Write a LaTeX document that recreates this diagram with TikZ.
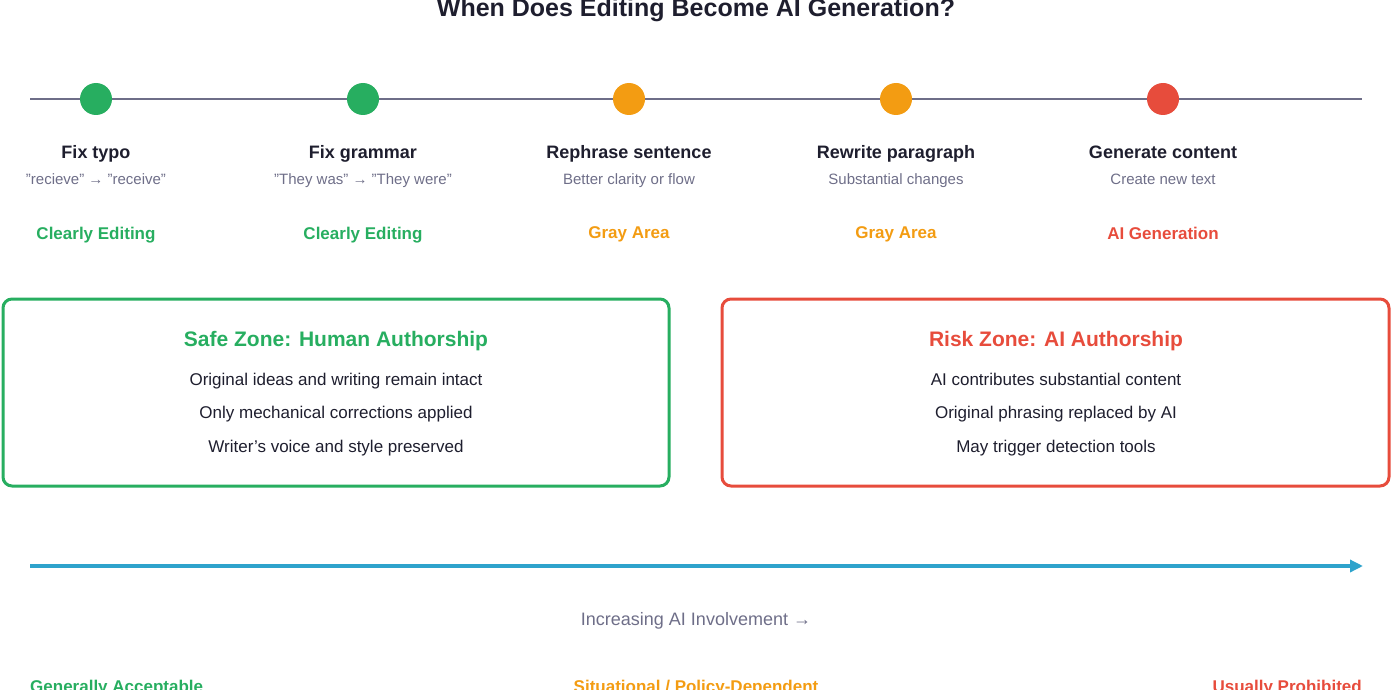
\documentclass[tikz,border=0pt]{standalone}
\usepackage{fontspec}
\setmainfont{Liberation Sans}
\usetikzlibrary{arrows.meta}
\definecolor{cgreen}{HTML}{27AE60}
\definecolor{corange}{HTML}{F39C12}
\definecolor{cred}{HTML}{E74C3C}
\definecolor{cline}{HTML}{6E6E88}
\definecolor{cdark}{HTML}{1E1E2E}
\definecolor{cgray}{HTML}{6E6E88}
\definecolor{cblue}{HTML}{2EA3CC}
\newcommand{\fsz}[1]{\fontsize{#1}{#1}\selectfont}
\newcommand{\q}{\char"22\relax}
\begin{document}
\begin{tikzpicture}[x=1pt,y=-1pt,
  dot/.style={circle,fill=#1,minimum size=32pt,inner sep=0pt},
  stage/.style={text=cdark,font=\fsz{18}\bfseries,text depth=0pt,yshift=-6pt},
  sub/.style={text=cgray,font=\fsz{15},text depth=0pt,yshift=-5pt},
  cat/.style={text=#1,font=\fsz{17}\bfseries,text depth=0pt,yshift=-6pt},
  zone/.style={draw=#1,line width=3pt,rounded corners=9pt},
  ztitle/.style={text=#1,font=\fsz{21}\bfseries,text depth=0pt,yshift=-7pt},
  zline/.style={text=cdark,font=\fsz{17},text depth=0pt,yshift=-6pt},
  foot/.style={text=#1,font=\fsz{17}\bfseries,text depth=0pt,yshift=-6pt}]
\useasboundingbox (0,0) rectangle (1392,690);
\node[text=cdark,font=\fsz{25}\bfseries] (title) at (696,10) {When Does Editing Become AI Generation?};
% timeline
\coordinate (tl) at (30,99);
\coordinate (tr) at (1362,99);
\draw[cline,line width=2.5pt] (tl) -- (tr);
\foreach \x/\c/\n/\s/\k/\t [count=\i] in {
  96/cgreen/Fix typo/{\q recieve\q{} → \q receive\q}/Clearly Editing/cgreen,
  363/cgreen/Fix grammar/{\q They was\q{} → \q They were\q}/Clearly Editing/cgreen,
  629/corange/Rephrase sentence/Better clarity or flow/Gray Area/corange,
  896/corange/Rewrite paragraph/Substantial changes/Gray Area/corange,
  1163/cred/Generate content/Create new text/AI Generation/cred}{
  \node[dot=\c] (d\i) at (\x,99) {};
  \node[stage] (n\i) at (\x,146) {\n};
  \node[sub] (s\i) at (\x,174) {\s};
  \node[cat=\t] (k\i) at (\x,227) {\k};
}
% zones
\draw[zone=cgreen] (3,299) rectangle (669,486);
\draw[zone=cred] (722,299) rectangle (1389,486);
\node[ztitle=cgreen] (gt) at (336,332) {Safe Zone: Human Authorship};
\node[zline] (g1) at (336,373) {Original ideas and writing remain intact};
\node[zline] (g2) at (336,406) {Only mechanical corrections applied};
\node[zline] (g3) at (336,440) {Writer's voice and style preserved};
\node[ztitle=cred] (rt) at (1056,332) {Risk Zone: AI Authorship};
\node[zline] (r1) at (1056,373) {AI contributes substantial content};
\node[zline] (r2) at (1056,406) {Original phrasing replaced by AI};
\node[zline] (r3) at (1056,440) {May trigger detection tools};
% axis
\coordinate (al) at (30,566);
\coordinate (ar) at (1363,566);
\draw[cblue,line width=4.5pt,-{Triangle[length=13pt,width=12pt]}] (al) -- (ar);
\node[text=cgray,font=\fsz{18},text depth=0pt,yshift=-6pt] (ax) at (696,613) {Increasing AI Involvement →};
\node[foot=cgreen,anchor=west,inner sep=0pt] (f1) at (30,680) {Generally Acceptable};
\node[foot=corange] (f2) at (696,680) {Situational / Policy-Dependent};
\node[foot=cred,anchor=east,inner sep=0pt] (f3) at (1362,680) {Usually Prohibited};
\end{tikzpicture}
\end{document}
